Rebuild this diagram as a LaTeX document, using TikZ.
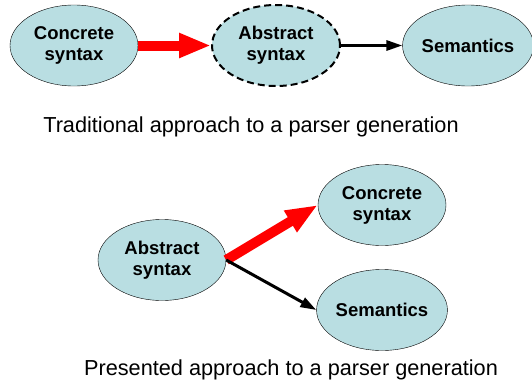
\documentclass[tikz,border=0pt]{standalone}
\usepackage{fontspec}
\setmainfont{Liberation Sans}
\usetikzlibrary{shapes.geometric,arrows.meta}
\definecolor{syntaxfill}{RGB}{185,222,226}
\tikzstyle{box} = [ellipse, draw=black, fill=syntaxfill, minimum width=128pt, minimum height=81pt, inner sep=0pt, align=center, font={\bfseries\fontsize{18.5}{21}\selectfont}]
\tikzstyle{hidden} = [dash pattern=on 7pt off 4pt, line width=2pt]
\tikzstyle{generates} = [red, line width=10pt, -{Triangle[length=32pt,width=23pt]}]
\tikzstyle{uses} = [black, line width=3pt, -{Triangle[length=16pt,width=10pt]}]
\tikzstyle{caption} = [anchor=base, font={\fontsize{21.7}{26}\selectfont}]

\begin{document}
\begin{tikzpicture}[x=1pt,y=-1pt]
  \useasboundingbox (0,0) rectangle (532,383);
  % traditional
  \node[box](cs1) at (74,45.5){Concrete\\syntax};
  \node[box,hidden](as1) at (276,45.5){Abstract\\syntax};
  \node[box](sem1) at (468,45.5){Semantics};
  \draw[generates](cs1.east)--(as1.west);
  \draw[uses](as1.east)--(sem1.west);
  \node[caption](trad) at (251,132){Traditional approach to a parser generation};
  % presented
  \node[box](as2) at (162,260){Abstract\\syntax};
  \node[box](cs2) at (382,205){Concrete\\syntax};
  \node[box](sem2) at (382,310){Semantics};
  \draw[generates](as2.east)--(cs2.west);
  \draw[uses](as2.east)--(sem2.west);
  \node[caption](pres) at (291,375){Presented approach to a parser generation};
\end{tikzpicture}
\end{document}
